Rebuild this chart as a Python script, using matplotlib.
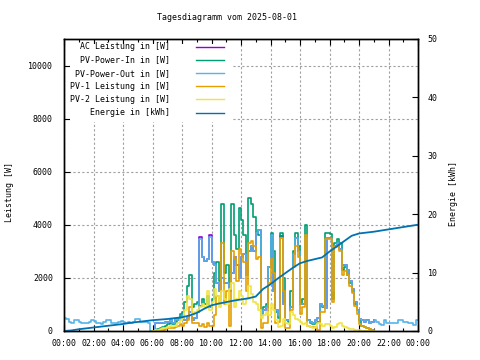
import numpy as np
import matplotlib
matplotlib.use("Agg")
import matplotlib.pyplot as plt
from matplotlib.lines import Line2D
from matplotlib.patches import Rectangle

# --- data (10 min steps) ---
# PV-Power-Out, whole day 00:00 .. 24:00
out_night_am = [475, 470, 330, 290, 410, 400, 330, 300, 290, 290, 330, 420,
                380, 320, 300, 280, 330, 410, 400, 290, 300, 290, 350, 360,
                340, 320, 330, 300, 340, 460, 440, 350, 330, 340, 320, 0]
out_day = [0, 300, 320, 300, 300, 350,
           350, 400, 300, 450, 400, 500,
           600, 400, 500, 700, 400, 500,
           700, 3450, 2800, 2650, 2700, 3550,
           2600, 2500, 1800, 1500, 2000, 1800,
           1800, 1500, 2200, 2800, 2500, 2000,
           2800, 2900, 2100, 3000, 3200, 3000,
           3700, 3800, 600, 800, 900, 2400,
           3600, 1500, 800, 600, 3500, 1000,
           400, 400, 900, 2900, 3500, 3000,
           1000, 1000, 3500, 400, 350, 300,
           400, 500, 1000, 950, 850, 3500,
           3500, 1500, 3200, 3300, 3100, 2500,
           2500, 2300, 1900, 1600, 1100, 800,
           450, 400, 350, 400, 300, 350, 400]
out_night_pm = [330, 250, 230, 430, 300, 290, 290, 300, 290, 410, 400,
                330, 330, 300, 300, 230, 420, 420]

# 06:00 .. 21:00
ac_power = [0, 300, 320, 300, 300, 350,
            350, 400, 300, 450, 400, 500,
            600, 400, 500, 700, 400, 500,
            700, 3530, 2800, 2650, 2700, 3630,
            2600, 2500, 1800, 1500, 2000, 1800,
            1800, 1500, 2200, 2800, 2500, 2000,
            2800, 2900, 2100, 3000, 3200, 3000,
            3700, 3800, 600, 800, 900, 2400,
            3600, 1500, 800, 600, 3560, 1000,
            400, 400, 900, 2900, 3500, 3000,
            1000, 1000, 3500, 400, 350, 300,
            400, 500, 1000, 950, 850, 3500,
            3500, 1500, 3200, 3300, 3100, 2500,
            2500, 2300, 1900, 1600, 1100, 800,
            450, 400, 350, 400, 300, 350, 400]
pv_in = [0, 20, 60, 100, 150, 200,
         250, 300, 280, 350, 500, 650,
         700, 1100, 1700, 2100, 900, 1000,
         1100, 950, 1200, 1000, 1300, 900,
         1200, 2200, 2600, 1900, 4800, 2200,
         2500, 1800, 4800, 3600, 3100, 4650,
         4200, 3600, 2700, 5000, 4800, 4300,
         3700, 3600, 600, 900, 1000, 2400,
         3700, 3000, 700, 500, 3700, 2000,
         400, 350, 1500, 3000, 3700, 3200,
         1000, 1200, 4000, 400, 300, 250,
         300, 350, 950, 900, 3700, 3700,
         3650, 1200, 3300, 3450, 3300, 2300,
         2400, 2100, 1800, 1500, 1000, 800,
         400, 200, 150, 100, 60, 30, 0]
pv1 = [0, 0, 10, 20, 50, 80,
       100, 120, 110, 150, 200, 250,
       200, 300, 400, 900, 300, 300,
       300, 200, 250, 150, 300, 200,
       200, 600, 1300, 1000, 3300, 1000,
       1500, 200, 3000, 2700, 1900, 3100,
       2900, 2600, 1500, 3300, 3400, 3200,
       2700, 2800, 100, 300, 300, 1800,
       2700, 2200, 300, 350, 3500, 1500,
       100, 100, 800, 2400, 3200, 2800,
       650, 900, 3600, 200, 150, 150,
       150, 50, 700, 700, 3450, 3450,
       3450, 1100, 3150, 3200, 3000, 2100,
       2250, 2100, 1700, 1450, 950, 650,
       280, 190, 150, 100, 60, 30, 0]
pv2 = [0, 20, 50, 80, 100, 120,
       150, 180, 170, 200, 300, 400,
       500, 800, 1300, 1200, 600, 700,
       800, 900, 1000, 900, 1500, 800,
       1100, 1600, 1300, 900, 1500, 1200,
       1000, 1600, 1800, 900, 1200, 1500,
       1300, 1000, 1200, 1700, 1400, 1100,
       1000, 800, 500, 600, 700, 600,
       1000, 800, 400, 150, 200, 450,
       300, 250, 700, 600, 450, 400,
       350, 250, 300, 200, 150, 100,
       150, 300, 250, 200, 250, 250,
       200, 100, 150, 250, 300, 200,
       150, 100, 80, 60, 40, 30,
       20, 10, 0, 0, 0, 0, 0]

# Energie in kWh, every 30 min 00:00 .. 24:00
energy = [0, 0.1, 0.3, 0.45, 0.6, 0.75, 0.9, 1.05, 1.2, 1.4, 1.55, 1.7,
          1.85, 1.95, 2.05, 2.2, 2.35, 2.65, 3.1, 3.8, 4.4, 4.7, 4.95, 5.2,
          5.4, 5.6, 5.9, 7.2, 8.0, 9.0, 9.9, 10.8, 11.6, 12.0, 12.3, 12.6,
          13.6, 14.5, 15.4, 16.3, 16.7, 16.85, 17.0, 17.2, 17.4, 17.6, 17.8,
          18.0, 18.2]

tick_labels = ["00:00", "02:00", "04:00", "06:00", "08:00", "10:00", "12:00",
               "14:00", "16:00", "18:00", "20:00", "22:00", "00:00"]

pv_out = out_night_am + out_day + out_night_pm
t_full = np.arange(len(pv_out)) / 6.0
t_day = 6 + np.arange(len(pv_in)) / 6.0
t_energy = np.arange(len(energy)) / 2.0

names = ["AC Leistung in [W]", "PV-Power-In in [W]", "PV-Power-Out in [W]",
         "PV-1 Leistung in [W]", "PV-2 Leistung in [W]", "Energie in [kWh]"]
colors = ["#9400d3", "#009e73", "#56b4e9", "#e69f00", "#f0e442", "#0072b2"]

plt.rcParams["font.family"] = "DejaVu Sans Mono"
fs = 5.95

fig = plt.figure(figsize=(4.8, 3.6), dpi=100)
W, H = 480.0, 360.0
x0, x1, y0, y1 = 64, 418, 39, 331
ax = fig.add_axes([x0 / W, 1 - y1 / H, (x1 - x0) / W, (y1 - y0) / H])
ax2 = ax.twinx()
ax.set_axisbelow(True)

lw = 1.2
ax.plot(t_day, ac_power, color=colors[0], lw=lw, drawstyle="steps-post")
ax.plot(t_day, pv_in, color=colors[1], lw=lw, drawstyle="steps-post")
ax.plot(t_full, pv_out, color=colors[2], lw=lw, drawstyle="steps-post")
ax.plot(t_day, pv1, color=colors[3], lw=lw, drawstyle="steps-post")
ax.plot(t_day, pv2, color=colors[4], lw=lw, drawstyle="steps-post")
ax2.plot(t_energy, energy, color=colors[5], lw=1.3)

ax.set_xlim(0, 24)
ax.set_ylim(0, 11000)
ax2.set_ylim(0, 50)
ax.set_xticks(np.arange(0, 25, 2))
ax.set_xticklabels(tick_labels)
ax.set_xticks(np.arange(0, 25, 1), minor=True)
ax.set_yticks(np.arange(0, 10001, 2000))
ax2.set_yticks(np.arange(0, 51, 10))

ax.tick_params(axis="x", which="major", direction="in", length=4, width=0.8,
               top=True, labelsize=fs, pad=6)
ax.tick_params(axis="x", which="minor", direction="in", length=2.5, width=0.8,
               top=True)
ax.tick_params(axis="y", direction="in", length=4, width=0.8, labelsize=fs, pad=8)
ax2.tick_params(axis="y", direction="in", length=4, width=0.8, labelsize=fs, pad=7)

ax.grid(True, which="major", color="#a0a0a0", linestyle=(0, (2, 2)), lw=0.8)
for a in (ax, ax2):
    for s in a.spines.values():
        s.set_linewidth(1.0)

def fx(x):
    return x / W

def fy(y):
    return 1 - y / H

fig.text(fx(227), fy(18), "Tagesdiagramm vom 2025-08-01", fontsize=fs,
         ha="center", va="center")
fig.text(fx(10), fy(192), "Leistung [W]", fontsize=fs, rotation=90,
         ha="center", va="center")
fig.text(fx(453), fy(194), "Energie [kWh]", fontsize=fs, rotation=90,
         ha="center", va="center")

# legend (gnuplot style, no frame)
fig.patches.append(Rectangle((fx(70), fy(122)), fx(232) - fx(70), fy(44) - fy(122),
                             transform=fig.transFigure, facecolor="white",
                             edgecolor="none", zorder=1))
rows = [46.7, 60, 73.3, 86.3, 99.3, 112.7]
for name, c, ry in zip(names, colors, rows):
    fig.text(fx(170), fy(ry), name, fontsize=fs, ha="right", va="center", zorder=3)
    fig.lines.append(Line2D([fx(196), fx(224)], [fy(ry), fy(ry)], color=c, lw=1,
                            transform=fig.transFigure, zorder=3))

fig.savefig("out.png", dpi=100)
